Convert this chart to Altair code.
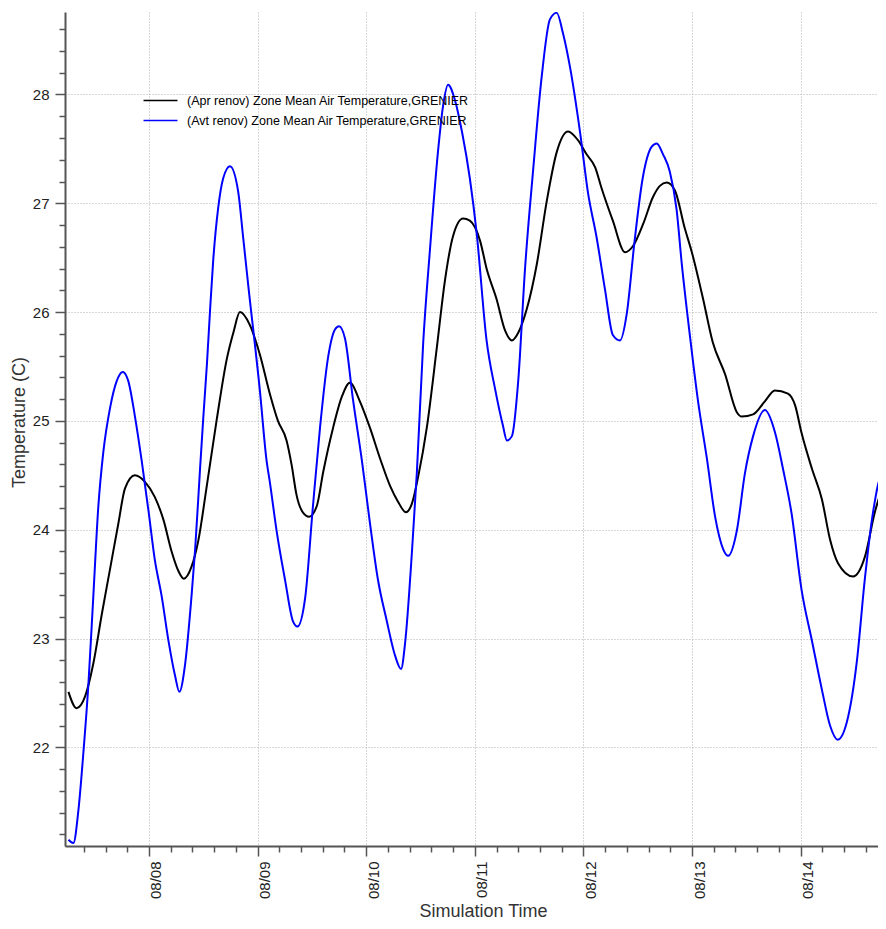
import altair as alt
import pandas as pd

FONT = "Liberation Sans"

series_names = [
    "(Apr renov) Zone Mean Air Temperature,GRENIER",
    "(Avt renov) Zone Mean Air Temperature,GRENIER",
]
series_colors = ["#000000", "#0000ff"]

# hours since 08/07 00:00
hours_apr = [6.2, 8.0, 9.9, 11.7, 13.6, 15.4, 17.2, 18.7, 20.9, 23.1, 25.3, 27.2, 29.0, 30.5, 31.7,
             33.4, 34.9, 36.8, 39.0, 41.2, 42.7, 44.1, 46.3, 48.5, 50.7, 52.5, 54.4, 55.5, 56.6,
             58.0, 59.4, 61.1, 62.5, 64.7, 66.6, 68.4, 70.6, 72.8, 75.1, 77.3, 79.0, 80.8, 82.1,
             83.5, 85.4, 87.6, 89.4, 91.2, 93.4, 94.9, 97.2, 98.6, 100.8, 102.7, 104.2, 105.6,
             107.5, 109.7, 111.9, 114.1, 116.6, 118.8, 120.7, 122.6, 124.0, 126.5, 129.2, 131.0,
             133.2, 135.4, 136.9, 138.4, 140.2, 142.4, 143.9, 146.4, 148.6, 151.3, 153.9, 155.0,
             157.5, 160.1, 162.3, 165.2, 166.8, 168.2, 170.5, 172.7, 174.5, 176.3, 179.6, 182.2,
             184.4, 186.7]
temp_apr = [22.51, 22.36, 22.47, 22.77, 23.23, 23.64, 24.05, 24.38, 24.50, 24.44, 24.30, 24.09, 23.80,
            23.62, 23.55, 23.66, 23.90, 24.41, 25.02, 25.57, 25.82, 26.00, 25.88, 25.61, 25.25, 25.00,
            24.82, 24.60, 24.32, 24.16, 24.12, 24.22, 24.53, 24.94, 25.22, 25.35, 25.18, 24.94, 24.65,
            24.40, 24.26, 24.16, 24.24, 24.49, 24.94, 25.67, 26.29, 26.70, 26.86, 26.84, 26.65, 26.40,
            26.12, 25.83, 25.74, 25.81, 26.03, 26.44, 27.02, 27.47, 27.66, 27.58, 27.45, 27.33, 27.14,
            26.84, 26.55, 26.61, 26.81, 27.06, 27.16, 27.19, 27.12, 26.77, 26.56, 26.13, 25.72, 25.43,
            25.08, 25.04, 25.06, 25.18, 25.28, 25.25, 25.14, 24.89, 24.56, 24.28, 23.91, 23.69, 23.57,
            23.75, 24.16, 24.46]

hours_avt = [6.2, 7.3, 8.4, 9.5, 10.6, 11.7, 12.8, 13.9, 15.4, 16.9, 18.2, 19.4, 20.9, 22.4, 23.9,
             25.3, 26.8, 28.3, 29.8, 30.7, 32.0, 33.4, 34.2, 35.3, 36.0, 36.8, 37.5, 38.2, 39.3, 40.4,
             41.9, 43.7, 44.8, 45.9, 48.5, 50.0, 50.7, 52.2, 54.1, 55.8, 56.8, 58.5, 60.2, 61.8, 63.6,
             65.1, 66.0, 67.3, 69.1, 71.0, 72.8, 74.6, 76.5, 78.4, 79.7, 80.6, 82.1, 83.2, 84.6, 86.1,
             87.9, 89.0, 90.1, 91.6, 93.2, 94.9, 96.4, 98.6, 100.5, 102.2, 103.1, 104.2, 105.6, 107.1,
             108.9, 110.8, 112.6, 114.1, 115.5, 117.0, 119.3, 121.0, 122.9, 124.8, 126.5, 128.1, 129.6,
             131.3, 133.1, 135.1, 136.2, 137.6, 139.1, 140.6, 141.7, 143.6, 145.3, 147.3, 149.1, 150.9,
             152.0, 153.9, 155.7, 157.5, 160.1, 162.3, 164.1, 166.0, 168.2, 170.5, 172.7, 174.5, 176.2,
             178.5, 180.4, 182.2, 184.0, 185.9, 186.8]
temp_avt = [21.15, 21.12, 21.42, 21.95, 22.57, 23.39, 24.21, 24.71, 25.12, 25.37, 25.45, 25.37, 25.04,
            24.63, 24.17, 23.72, 23.39, 22.98, 22.65, 22.51, 22.77, 23.39, 23.82, 24.57, 25.03, 25.52,
            26.02, 26.48, 26.96, 27.23, 27.34, 27.11, 26.69, 26.26, 25.28, 24.63, 24.44, 23.99, 23.53,
            23.16, 23.11, 23.37, 24.20, 24.94, 25.59, 25.84, 25.87, 25.76, 25.19, 24.65, 24.07, 23.54,
            23.17, 22.84, 22.72, 22.96, 23.79, 24.53, 25.72, 26.58, 27.49, 27.90, 28.09, 27.95, 27.65,
            27.23, 26.73, 25.74, 25.29, 24.96, 24.82, 24.86, 25.37, 26.40, 27.31, 28.17, 28.69, 28.75,
            28.56, 28.26, 27.64, 27.10, 26.69, 26.20, 25.79, 25.74, 25.99, 26.65, 27.23, 27.52, 27.55,
            27.45, 27.29, 26.94, 26.46, 25.76, 25.19, 24.65, 24.12, 23.82, 23.76, 23.99, 24.52, 24.86,
            25.10, 24.90, 24.56, 24.15, 23.45, 22.98, 22.53, 22.20, 22.07, 22.28, 22.78, 23.55, 24.16,
            24.49, 24.49]

y_ticks = [22, 23, 24, 25, 26, 27, 28]
y_domain = [21.093, 28.758]
x_domain_hours = [5.44, 185.10]

base = pd.Timestamp("2023-08-07 00:00:00")


def stamp(h):
    return (base + pd.Timedelta(hours=h)).strftime("%Y-%m-%dT%H:%M:%S")


def dt(h):
    t = base + pd.Timedelta(hours=h)
    return alt.DateTime(year=t.year, month=t.month, date=t.day,
                        hours=t.hour, minutes=t.minute, seconds=t.second)


rows = []
for name, hs, ts in [(series_names[0], hours_apr, temp_apr), (series_names[1], hours_avt, temp_avt)]:
    for h, v in zip(hs, ts):
        rows.append({"time": stamp(h), "temp": v, "series": name})
df = pd.DataFrame(rows)

x_scale = alt.Scale(domain=[dt(x_domain_hours[0]), dt(x_domain_hours[1])], nice=False)
y_scale = alt.Scale(domain=y_domain, nice=False, zero=False)

major_x_vals = [dt(24 * d) for d in range(1, 8)]
minor_x_vals = [dt(4.8 * k) for k in range(1, 39) if k % 5 != 0 and 4.8 * k > x_domain_hours[0] and 4.8 * k < x_domain_hours[1]]
minor_y_vals = [round(21.2 + 0.2 * k, 1) for k in range(38) if abs((21.2 + 0.2 * k) - round(21.2 + 0.2 * k)) > 0.01]

AXC = "#555555"

x_axis = alt.Axis(values=major_x_vals, format="%m/%d", labelAngle=270, labelFont=FONT,
                  labelFontSize=15, labelColor="#222222", labelPadding=5, labelFlush=False,
                  labelBaseline="top", labelAlign="right",
                  labelOverlap=False, tickSize=10, tickColor=AXC, tickWidth=1.5,
                  domainColor=AXC, domainWidth=2, grid=True, gridColor="#b0b0b0",
                  gridDash=[1, 2], gridWidth=1, title="Simulation Time", titleFont=FONT,
                  titleFontSize=18, titleFontWeight="normal", titleColor="#333333",
                  titleX=418, titleY=70, titleBaseline="alphabetic", orient="bottom")
y_axis = alt.Axis(values=y_ticks, labelFont=FONT, labelFontSize=15, labelColor="#222222",
                  labelPadding=6, tickSize=10, tickColor=AXC, tickWidth=1.5, domainColor=AXC,
                  domainWidth=2, grid=True, gridColor="#b0b0b0", gridDash=[1, 2], gridWidth=1,
                  title="Temperature (C)", titleFont=FONT, titleFontSize=18,
                  titleFontWeight="normal", titleColor="#333333", titleX=-46, titleY=410,
                  titleBaseline="middle", titleAlign="center", orient="left", labelFlush=False)

legend = alt.Legend(orient="none", legendX=89, legendY=82, title=None, direction="vertical",
                    symbolType="M-3,0H3", symbolSize=128, symbolStrokeWidth=1.5,
                    labelFont=FONT, labelFontSize=12.5, labelColor="#000000", labelOffset=20,
                    rowPadding=7, padding=0, labelLimit=500)

lines = alt.Chart(df).mark_line(strokeWidth=2, interpolate="monotone", clip=True).encode(
    x=alt.X("time:T", scale=x_scale, axis=x_axis),
    y=alt.Y("temp:Q", scale=y_scale, axis=y_axis),
    color=alt.Color("series:N", scale=alt.Scale(domain=series_names, range=series_colors),
                    legend=legend),
)

minor = alt.Chart(df).mark_line(opacity=0, clip=True).encode(
    x=alt.X("time:T", axis=alt.Axis(values=minor_x_vals, labels=False, grid=False, domain=False,
                                    tickSize=6, tickColor=AXC, tickWidth=1.5, title=None,
                                    orient="bottom")),
    y=alt.Y("temp:Q", axis=alt.Axis(values=minor_y_vals, labels=False, grid=False, domain=False,
                                    tickSize=6, tickColor=AXC, tickWidth=1.5, title=None,
                                    orient="left")),
    detail="series:N",
)

chart = alt.layer(lines, minor).resolve_axis(x="independent", y="independent").properties(
    width=813, height=834,
    autosize=alt.AutoSizeParams(type="none"),
    padding={"left": 57, "top": 4, "right": 0, "bottom": 75},
    background="white",
).configure_view(stroke=None)

chart.save("out.html", embed_options={"renderer": "svg", "actions": False})
